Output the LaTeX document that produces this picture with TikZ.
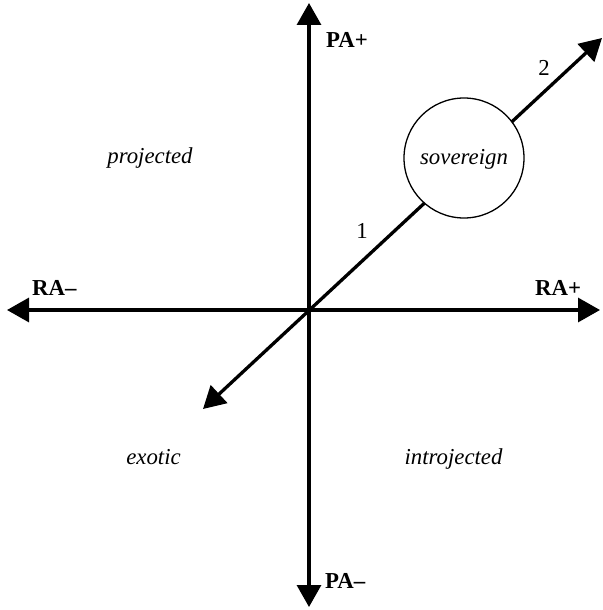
\documentclass[tikz,border=0pt]{standalone}
\usepackage{fontspec}
\setmainfont{Liberation Serif}
\usetikzlibrary{arrows.meta}
\begin{document}
\begin{tikzpicture}[x=1pt,y=-1pt,
  txt/.style={inner sep=0pt, font=\fontsize{22.8pt}{27pt}\selectfont},
  quad/.style={txt, anchor=base, font=\fontsize{22.8pt}{27pt}\selectfont\itshape},
  axlab/.style={txt, anchor=base west, font=\fontsize{22.8pt}{27pt}\selectfont\bfseries},
  num/.style={txt, anchor=base},
  axisline/.style={line width=3.3pt, {Triangle[length=22pt,width=24pt]}-{Triangle[length=22pt,width=24pt]}},
  bigcircle/.style={circle, draw, line width=1.3pt, fill=white, minimum size=120pt, inner sep=0pt}
]
\useasboundingbox (0,0) rectangle (602,610);
\coordinate (O) at (309,310);
\coordinate (top) at (309,3);
\coordinate (bot) at (309,607);
\coordinate (left) at (7,310);
\coordinate (right) at (600,310);
\coordinate (ne) at (602,38);
\coordinate (sw) at (203,409);
\draw[axisline] (bot) -- (top);
\draw[axisline] (left) -- (right);
\draw[axisline] (sw) -- (ne);
\node[bigcircle] (sov) at (464,158) {};
\node[quad] (sovt) at (464,164) {sovereign};
\node[quad] (proj) at (150,163) {projected};
\node[quad] (exo) at (153.5,464) {exotic};
\node[quad] (intro) at (453.5,464) {introjected};
\node[axlab] (pap) at (326,48) {PA+};
\node[axlab] (pam) at (325,588) {PA–};
\node[axlab] (ram) at (32,295) {RA–};
\node[axlab] (rap) at (535,295) {RA+};
\node[num] (one) at (362,238) {1};
\node[num] (two) at (544,75) {2};
\end{tikzpicture}
\end{document}
